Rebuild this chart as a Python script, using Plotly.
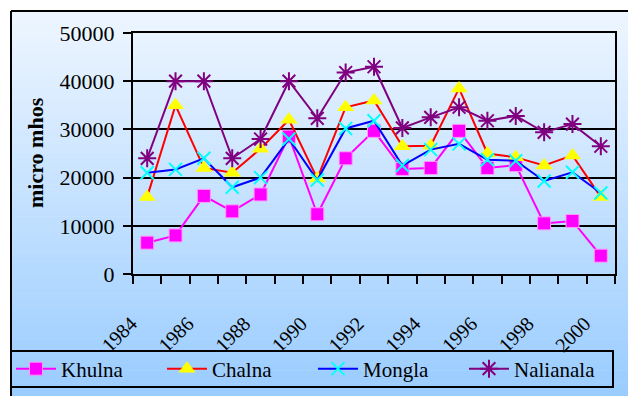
import plotly.graph_objects as go

# Conductivity readings (micro mhos) at four stations, 1984-2000
years = list(range(1984, 2001))
khulna = [6500, 8000, 16200, 13000, 16500, 28500, 12400, 24000, 29700,
          21800, 22000, 29700, 22000, 22600, 10500, 11000, 3800]
chalna = [16000, 35000, 22000, 21000, 26000, 32000, 19800, 34600, 36000,
          26500, 26600, 38500, 25000, 24200, 22500, 24600, 16000]
mongla = [21000, 21700, 24000, 18000, 20000, 28000, 19500, 30200, 31800,
          22500, 25800, 27000, 23700, 23500, 19300, 21100, 16800]
nalianala = [24000, 40000, 40000, 24000, 28000, 40000, 32300, 41800, 43000,
             30300, 32500, 34600, 31800, 32800, 29400, 31100, 26500]
year_labels = [str(y) for y in range(1984, 2001, 2)]
y_ticks = [0, 10000, 20000, 30000, 40000, 50000]
y_labels = [str(v) for v in y_ticks]

W, H = 628, 396
FONT = "'Liberation Serif', 'Times New Roman', serif"


def px(x):
    return x / W


def py(y):
    return 1 - y / H


fig = go.Figure()

series = [
    ("Khulna", khulna, "#ff00ff",
     dict(symbol="square", size=13, color="#ff00ff",
          line=dict(color="#ff99ff", width=1))),
    ("Chalna", chalna, "#ff0000",
     dict(symbol="triangle-up", size=15, color="#ffff00",
          line=dict(width=0))),
    ("Mongla", mongla, "#0000ff",
     dict(symbol="x-thin-open", size=13, color="#00ffff",
          line=dict(color="#00ffff", width=2))),
    ("Nalianala", nalianala, "#800080",
     dict(symbol="asterisk-open", size=15, color="#800080",
          line=dict(color="#800080", width=2))),
]
for name, vals, lc, mk in series:
    fig.add_trace(go.Scatter(
        x=years, y=vals, name=name, mode="lines+markers",
        line=dict(color=lc, width=2), marker=mk,
    ))

# vertical gradient backdrop of the chart area
shapes = []
top = (238, 246, 255)
bot = (153, 204, 255)
y0, y1 = 11, H
n = 60
for i in range(n):
    t = (i + 0.5) / n
    c = tuple(round(top[k] + (bot[k] - top[k]) * t) for k in range(3))
    ya = y0 + (y1 - y0) * i / n
    yb = y0 + (y1 - y0) * (i + 1) / n + 0.5
    shapes.append(dict(type="rect", xref="paper", yref="paper",
                       x0=px(11), x1=1, y0=py(yb), y1=py(ya),
                       fillcolor="rgb(%d,%d,%d)" % c, line=dict(width=0),
                       layer="below"))
# chart frame (top and left edges)
shapes.append(dict(type="line", xref="paper", yref="paper",
                   x0=px(11), x1=1, y0=py(11), y1=py(11),
                   line=dict(color="black", width=2)))
shapes.append(dict(type="line", xref="paper", yref="paper",
                   x0=px(11), x1=px(11), y0=py(11), y1=0,
                   line=dict(color="black", width=2)))
# legend box
shapes.append(dict(type="rect", xref="paper", yref="paper",
                   x0=px(11), x1=px(613), y0=py(387), y1=py(351),
                   line=dict(color="black", width=2),
                   fillcolor="rgba(0,0,0,0)"))

fig.update_layout(
    width=W, height=H,
    margin=dict(l=0, r=0, t=0, b=0),
    paper_bgcolor="white",
    plot_bgcolor="rgba(0,0,0,0)",
    font=dict(family=FONT, color="black", size=20),
    shapes=shapes,
    showlegend=True,
    legend=dict(
        orientation="h", x=px(11), xanchor="left", y=py(369),
        yanchor="middle", bgcolor="rgba(0,0,0,0)", borderwidth=0,
        font=dict(family=FONT, size=21, color="black"), entrywidth=96,
        itemwidth=40,
    ),
    annotations=[dict(
        text="<b>micro mhos</b>", xref="paper", yref="paper",
        x=px(35), y=py(153), xanchor="center", yanchor="middle",
        textangle=-90, showarrow=False,
        font=dict(family=FONT, size=22, color="black"),
    )],
    xaxis=dict(
        domain=[px(133), px(615)], range=[1983.5, 2000.5],
        tickvals=list(range(1984, 2001, 2)), ticktext=year_labels,
        ticks="", tickangle=-45, showgrid=False, zeroline=False,
        showline=True, mirror=True, linecolor="black", linewidth=2,
        tickfont=dict(family=FONT, size=20, color="black"),
        minor=dict(tickvals=[1983.5 + i for i in range(18)], ticks="outside",
                   ticklen=8, tickwidth=2, tickcolor="black", showgrid=False),
        ticklabelstandoff=28, ticklabelshift=-16, automargin=False,
    ),
    yaxis=dict(
        domain=[py(274), py(33)], range=[0, 50000],
        tickvals=y_ticks, ticktext=y_labels, ticks="outside", ticklen=8,
        tickwidth=2, tickcolor="black", showgrid=True, gridcolor="black",
        gridwidth=1.5, zeroline=False, showline=True, mirror=True,
        linecolor="black", linewidth=2,
        tickfont=dict(family=FONT, size=22, color="black"),
        ticklabelstandoff=4, automargin=False,
    ),
)

fig.write_html("out.html")
